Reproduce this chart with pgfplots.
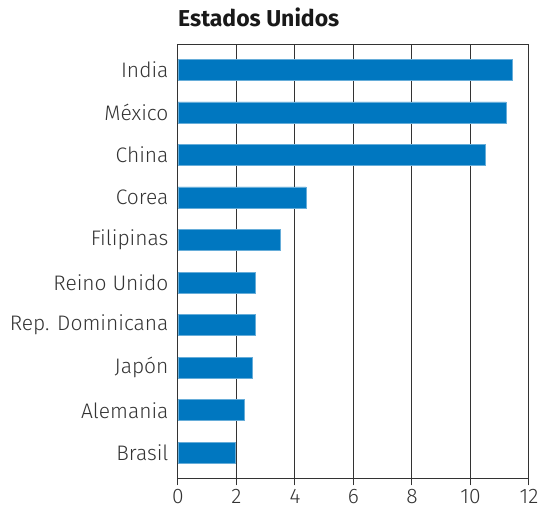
\documentclass[border=0pt]{standalone}
\usepackage{pgfplots}
\pgfplotsset{compat=1.18}
\usepackage{fontspec}
\setmainfont{Fira Sans Light}[BoldFont={Fira Sans Bold}]
\definecolor{barblue}{HTML}{0077C0}
\definecolor{axgray}{HTML}{333333}
\begin{document}
\begin{tikzpicture}
\path (-178pt,-33.7pt) rectangle (364pt,478.3pt);
\begin{axis}[
  scale only axis, width=351pt, height=434pt,
  at={(0,0)}, anchor=south west,
  xbar, bar width=21pt,
  xmin=0, xmax=12, ymin=-0.6, ymax=9.6,
  xtick={0,2,...,12}, xmajorgrids,
  grid style={draw=axgray, line width=1pt},
  axis line style={draw=axgray, line width=1pt},
  ytick={0,...,9},
  yticklabels={Brasil,Alemania,Japón,Rep. Dominicana,Reino Unido,Filipinas,Corea,China,México,India},
  y tick style={draw=none},
  x tick style={draw=axgray, line width=1pt},
  tick align=outside, xtick pos=bottom,
  major tick length=7pt,
  tick label style={font=\fontsize{21}{24}\selectfont, text=axgray},
  yticklabel style={xshift=1pt},
  /pgf/number format/assume math mode=true,
  title={\bfseries Estados Unidos},
  title style={at={(axis description cs:0,1)}, anchor=base west, yshift=12pt, font=\fontsize{23}{27}\selectfont, text=black!90, inner sep=0pt},
]
\addplot[fill=barblue, draw=barblue!60!white, line width=0.6pt] coordinates {(1.97,0) (2.27,1) (2.53,2) (2.64,3) (2.64,4) (3.5,5) (4.38,6) (10.5,7) (11.22,8) (11.43,9)};
\end{axis}
\end{tikzpicture}
\end{document}
